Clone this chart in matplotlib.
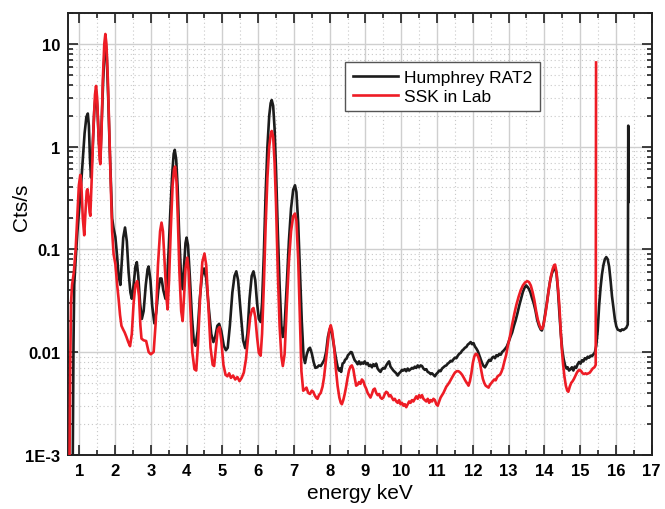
import matplotlib
matplotlib.use("Agg")
import matplotlib.pyplot as plt
from matplotlib.ticker import FixedLocator, NullFormatter, MultipleLocator

# Spectrum of the Humphrey RAT2 source: (energy keV, counts per second)
rat2_points = [
    (0.82, 0.001), (0.84, 0.012), (0.86, 0.045), (0.90, 0.08), (0.95, 0.15),
    (1.00, 0.25), (1.05, 0.42), (1.10, 0.75), (1.15, 1.35), (1.20, 1.95),
    (1.24, 2.1), (1.27, 1.6), (1.30, 0.75), (1.33, 0.5), (1.37, 0.9),
    (1.42, 2.2), (1.47, 3.5), (1.51, 2.3), (1.55, 1.1), (1.59, 0.75),
    (1.63, 1.8), (1.67, 4.5), (1.71, 8.5), (1.74, 10.0), (1.77, 7.5),
    (1.81, 3.0), (1.85, 1.0), (1.89, 0.4), (1.92, 0.2), (1.96, 0.16),
    (2.01, 0.132), (2.06, 0.085), (2.10, 0.055), (2.15, 0.045), (2.19, 0.075),
    (2.23, 0.13), (2.28, 0.163), (2.33, 0.12), (2.38, 0.06), (2.43, 0.038),
    (2.47, 0.033), (2.52, 0.045), (2.57, 0.068), (2.61, 0.075), (2.65, 0.055),
    (2.70, 0.03), (2.75, 0.021), (2.80, 0.025), (2.86, 0.045), (2.91, 0.064),
    (2.94, 0.068), (2.99, 0.05), (3.04, 0.028), (3.10, 0.019), (3.15, 0.024),
    (3.21, 0.04), (3.26, 0.052), (3.30, 0.052), (3.35, 0.04), (3.41, 0.033),
    (3.45, 0.045), (3.50, 0.1), (3.55, 0.25), (3.60, 0.55), (3.64, 0.85),
    (3.67, 0.93), (3.71, 0.75), (3.75, 0.4), (3.79, 0.15), (3.84, 0.06),
    (3.89, 0.041), (3.93, 0.07), (3.97, 0.115), (4.00, 0.13), (4.04, 0.11),
    (4.09, 0.055), (4.15, 0.022), (4.20, 0.013), (4.25, 0.0115), (4.31, 0.016),
    (4.37, 0.033), (4.43, 0.055), (4.49, 0.065), (4.55, 0.052), (4.62, 0.027),
    (4.69, 0.015), (4.75, 0.0125), (4.80, 0.014), (4.86, 0.018), (4.91, 0.0188),
    (4.97, 0.016), (5.04, 0.0115), (5.10, 0.0104), (5.15, 0.011), (5.21, 0.018),
    (5.28, 0.038), (5.34, 0.055), (5.39, 0.061), (5.44, 0.05), (5.51, 0.025),
    (5.58, 0.013), (5.64, 0.0109), (5.70, 0.015), (5.76, 0.033), (5.82, 0.055),
    (5.87, 0.061), (5.92, 0.05), (5.97, 0.03), (6.02, 0.021), (6.07, 0.0196),
    (6.11, 0.03), (6.16, 0.09), (6.21, 0.35), (6.26, 1.0), (6.31, 2.0),
    (6.35, 2.65), (6.38, 2.84), (6.42, 2.5), (6.46, 1.5), (6.50, 0.6),
    (6.55, 0.15), (6.60, 0.045), (6.65, 0.018), (6.69, 0.014), (6.74, 0.018),
    (6.80, 0.045), (6.86, 0.12), (6.92, 0.25), (6.98, 0.38), (7.03, 0.42),
    (7.07, 0.36), (7.12, 0.18), (7.17, 0.06), (7.22, 0.02), (7.27, 0.009),
    (7.31, 0.0078), (7.36, 0.0095), (7.41, 0.0107), (7.45, 0.0110), (7.50, 0.0097),
    (7.55, 0.0080), (7.60, 0.0070), (7.65, 0.0071), (7.70, 0.0074), (7.75, 0.0073),
    (7.80, 0.0078), (7.85, 0.0084), (7.90, 0.0100), (7.95, 0.0140), (8.00, 0.0166),
    (8.04, 0.0165), (8.08, 0.0140), (8.13, 0.0108), (8.18, 0.0085), (8.22, 0.0072),
    (8.26, 0.0066), (8.29, 0.0069), (8.32, 0.0064), (8.36, 0.0077), (8.40, 0.0079),
    (8.43, 0.0084), (8.47, 0.0086), (8.51, 0.0093), (8.55, 0.0096), (8.59, 0.0100),
    (8.62, 0.0099), (8.66, 0.0090), (8.70, 0.0083), (8.74, 0.0080), (8.78, 0.0076),
    (8.82, 0.0081), (8.86, 0.0076), (8.90, 0.0079), (8.94, 0.0077), (8.98, 0.0081),
    (9.02, 0.0076), (9.06, 0.0078), (9.10, 0.0073), (9.14, 0.0075), (9.18, 0.0071),
    (9.22, 0.0076), (9.26, 0.0073), (9.30, 0.0077), (9.34, 0.0069), (9.38, 0.0066),
    (9.42, 0.0064), (9.46, 0.0068), (9.50, 0.0070), (9.54, 0.0069), (9.58, 0.0074),
    (9.62, 0.0078), (9.66, 0.0081), (9.70, 0.0072), (9.74, 0.0069), (9.78, 0.0066),
    (9.82, 0.0064), (9.86, 0.0062), (9.90, 0.0059), (9.94, 0.0062), (9.98, 0.0064),
    (10.02, 0.0067), (10.06, 0.0066), (10.10, 0.0068), (10.14, 0.0065), (10.18, 0.0069),
    (10.22, 0.0066), (10.26, 0.0068), (10.30, 0.0070), (10.34, 0.0069), (10.38, 0.0072),
    (10.42, 0.0070), (10.46, 0.0074), (10.50, 0.0071), (10.54, 0.0074), (10.58, 0.0073),
    (10.62, 0.0069), (10.66, 0.0067), (10.70, 0.0068), (10.74, 0.0064), (10.78, 0.0063),
    (10.82, 0.0061), (10.86, 0.0062), (10.90, 0.0060), (10.94, 0.0058), (10.98, 0.0061),
    (11.02, 0.0063), (11.06, 0.0066), (11.10, 0.0065), (11.14, 0.0069), (11.18, 0.0071),
    (11.22, 0.0073), (11.26, 0.0074), (11.30, 0.0077), (11.34, 0.0079), (11.38, 0.0082),
    (11.42, 0.0081), (11.46, 0.0085), (11.50, 0.0088), (11.54, 0.0087), (11.58, 0.0092),
    (11.62, 0.0096), (11.66, 0.0098), (11.70, 0.0103), (11.74, 0.0106), (11.78, 0.0110),
    (11.82, 0.0112), (11.86, 0.0118), (11.90, 0.0121), (11.94, 0.0125), (11.98, 0.0119),
    (12.02, 0.0122), (12.06, 0.0113), (12.10, 0.0108), (12.14, 0.0102), (12.18, 0.0093),
    (12.22, 0.0085), (12.26, 0.0078), (12.30, 0.0073), (12.34, 0.0071), (12.38, 0.0075),
    (12.42, 0.0080), (12.46, 0.0084), (12.50, 0.0082), (12.54, 0.0088), (12.58, 0.0090),
    (12.62, 0.0087), (12.66, 0.0093), (12.70, 0.0091), (12.74, 0.0096), (12.78, 0.0094),
    (12.82, 0.0100), (12.86, 0.0103), (12.90, 0.0107), (12.95, 0.0113), (13.00, 0.0125),
    (13.05, 0.0140), (13.10, 0.0155), (13.15, 0.0180), (13.20, 0.0205), (13.25, 0.0240),
    (13.30, 0.0285), (13.35, 0.0330), (13.40, 0.0385), (13.45, 0.0425), (13.49, 0.0445),
    (13.53, 0.0430), (13.57, 0.0410), (13.61, 0.0380), (13.65, 0.0340), (13.70, 0.0300),
    (13.75, 0.0255), (13.80, 0.0205), (13.85, 0.0180), (13.90, 0.0165), (13.93, 0.0162),
    (13.97, 0.0180), (14.01, 0.0220), (14.06, 0.0285), (14.11, 0.0380), (14.16, 0.0490),
    (14.21, 0.0580), (14.26, 0.0640), (14.30, 0.0660), (14.34, 0.0580), (14.38, 0.0400),
    (14.42, 0.0240), (14.46, 0.0150), (14.50, 0.0105), (14.54, 0.0085), (14.58, 0.0074),
    (14.62, 0.0069), (14.65, 0.0071), (14.69, 0.0066), (14.73, 0.0068), (14.77, 0.0071),
    (14.81, 0.0066), (14.85, 0.0072), (14.89, 0.0070), (14.93, 0.0076), (14.97, 0.0080),
    (15.01, 0.0077), (15.05, 0.0083), (15.09, 0.0081), (15.13, 0.0087), (15.17, 0.0085),
    (15.21, 0.0090), (15.25, 0.0088), (15.29, 0.0092), (15.33, 0.0091), (15.37, 0.0095),
    (15.41, 0.0099), (15.45, 0.0115), (15.49, 0.0160), (15.53, 0.0280), (15.57, 0.0420),
    (15.61, 0.0570), (15.65, 0.0700), (15.69, 0.0800), (15.73, 0.0840), (15.77, 0.0800),
    (15.81, 0.0680), (15.85, 0.0500), (15.89, 0.0350), (15.93, 0.0270), (15.97, 0.0210),
    (16.01, 0.0178), (16.05, 0.0165), (16.09, 0.0163), (16.13, 0.0160), (16.17, 0.0166),
    (16.21, 0.0164), (16.25, 0.0168), (16.29, 0.0172), (16.33, 0.0185), (16.345, 1.6),
    (16.355, 0.29),
]

# Spectrum of the SSK source measured in the lab: (energy keV, counts per second)
ssk_points = [
    (0.73, 0.001), (0.75, 0.008), (0.77, 0.03), (0.80, 0.045), (0.85, 0.06),
    (0.90, 0.1), (0.95, 0.22), (0.99, 0.42), (1.03, 0.53), (1.06, 0.42),
    (1.10, 0.2), (1.14, 0.137), (1.18, 0.25), (1.21, 0.37), (1.23, 0.385),
    (1.26, 0.32), (1.29, 0.23), (1.31, 0.212), (1.35, 0.5), (1.40, 1.6),
    (1.44, 3.2), (1.47, 3.9), (1.50, 3.0), (1.54, 1.3), (1.57, 0.75),
    (1.59, 0.675), (1.62, 1.3), (1.66, 4.5), (1.70, 10.0), (1.73, 12.5),
    (1.76, 10.0), (1.80, 4.5), (1.84, 1.4), (1.88, 0.45), (1.92, 0.15),
    (1.96, 0.09), (2.01, 0.072), (2.06, 0.045), (2.10, 0.033), (2.14, 0.023),
    (2.18, 0.018), (2.23, 0.0165), (2.27, 0.0155), (2.32, 0.014), (2.37, 0.0125),
    (2.42, 0.0114), (2.47, 0.015), (2.52, 0.03), (2.57, 0.045), (2.62, 0.049),
    (2.67, 0.035), (2.71, 0.018), (2.74, 0.0135), (2.80, 0.013), (2.87, 0.0128),
    (2.94, 0.0100), (3.00, 0.0095), (3.08, 0.0100), (3.14, 0.02), (3.20, 0.07),
    (3.26, 0.15), (3.30, 0.182), (3.34, 0.15), (3.39, 0.07), (3.44, 0.033),
    (3.47, 0.026), (3.51, 0.05), (3.56, 0.16), (3.61, 0.42), (3.65, 0.6),
    (3.68, 0.64), (3.72, 0.45), (3.76, 0.18), (3.80, 0.06), (3.85, 0.025),
    (3.89, 0.020), (3.93, 0.035), (3.97, 0.065), (4.02, 0.083), (4.06, 0.06),
    (4.11, 0.025), (4.16, 0.01), (4.22, 0.0068), (4.27, 0.0066), (4.32, 0.012),
    (4.38, 0.035), (4.44, 0.075), (4.50, 0.091), (4.55, 0.07), (4.61, 0.028),
    (4.67, 0.011), (4.73, 0.0075), (4.77, 0.0073), (4.82, 0.011), (4.87, 0.0165),
    (4.92, 0.0175), (4.97, 0.013), (5.03, 0.0075), (5.09, 0.006), (5.14, 0.0058),
    (5.19, 0.0062), (5.24, 0.0056), (5.30, 0.0059), (5.36, 0.0054), (5.42, 0.0057),
    (5.48, 0.0052), (5.54, 0.0056), (5.60, 0.0063), (5.66, 0.0085), (5.72, 0.014),
    (5.78, 0.022), (5.83, 0.026), (5.87, 0.0268), (5.92, 0.022), (5.97, 0.014),
    (6.02, 0.0098), (6.07, 0.0092), (6.11, 0.015), (6.16, 0.045), (6.21, 0.17),
    (6.26, 0.5), (6.31, 1.0), (6.35, 1.3), (6.38, 1.42), (6.42, 1.25),
    (6.46, 0.7), (6.50, 0.28), (6.55, 0.06), (6.60, 0.018), (6.65, 0.009),
    (6.69, 0.0073), (6.74, 0.0095), (6.80, 0.028), (6.86, 0.075), (6.92, 0.15),
    (6.98, 0.21), (7.03, 0.223), (7.07, 0.19), (7.12, 0.08), (7.17, 0.02),
    (7.21, 0.0065), (7.26, 0.0042), (7.30, 0.0043), (7.35, 0.0045), (7.40, 0.0040),
    (7.45, 0.0039), (7.50, 0.0042), (7.54, 0.0041), (7.58, 0.0038), (7.62, 0.0036),
    (7.66, 0.0035), (7.70, 0.0038), (7.75, 0.0040), (7.80, 0.0046), (7.84, 0.0056),
    (7.89, 0.0080), (7.94, 0.0115), (7.99, 0.0165), (8.03, 0.0182), (8.07, 0.0160),
    (8.12, 0.0115), (8.17, 0.0070), (8.22, 0.0047), (8.27, 0.0036), (8.31, 0.0032),
    (8.34, 0.0031), (8.38, 0.0034), (8.42, 0.0039), (8.46, 0.0046), (8.50, 0.0056),
    (8.54, 0.0066), (8.58, 0.0072), (8.62, 0.0074), (8.66, 0.0068), (8.70, 0.0056),
    (8.74, 0.0047), (8.78, 0.0048), (8.82, 0.0051), (8.86, 0.0049), (8.90, 0.0054),
    (8.94, 0.0052), (8.98, 0.0047), (9.02, 0.0044), (9.06, 0.0040), (9.10, 0.0038),
    (9.14, 0.0036), (9.18, 0.0039), (9.22, 0.0043), (9.26, 0.0044), (9.30, 0.0040),
    (9.34, 0.0038), (9.38, 0.0039), (9.42, 0.0036), (9.46, 0.0035), (9.50, 0.0036),
    (9.54, 0.0039), (9.58, 0.0041), (9.62, 0.0040), (9.66, 0.0037), (9.70, 0.0038),
    (9.74, 0.0036), (9.78, 0.0034), (9.82, 0.0035), (9.86, 0.0033), (9.90, 0.0032),
    (9.94, 0.0034), (9.98, 0.0031), (10.02, 0.0032), (10.06, 0.0030), (10.10, 0.0031),
    (10.14, 0.0029), (10.18, 0.0031), (10.22, 0.0033), (10.26, 0.0032), (10.30, 0.0034),
    (10.34, 0.0033), (10.38, 0.0035), (10.42, 0.0037), (10.46, 0.0035), (10.50, 0.0038),
    (10.54, 0.0036), (10.58, 0.0038), (10.62, 0.0035), (10.66, 0.0034), (10.70, 0.0033),
    (10.74, 0.0035), (10.78, 0.0032), (10.82, 0.0034), (10.86, 0.0033), (10.90, 0.0035),
    (10.94, 0.0034), (10.98, 0.0031), (11.02, 0.0030), (11.06, 0.0033), (11.10, 0.0036),
    (11.14, 0.0038), (11.18, 0.0040), (11.22, 0.0043), (11.26, 0.0046), (11.30, 0.0048),
    (11.35, 0.0051), (11.40, 0.0055), (11.45, 0.0059), (11.50, 0.0063), (11.55, 0.0065),
    (11.60, 0.0065), (11.65, 0.0063), (11.70, 0.0060), (11.75, 0.0056), (11.80, 0.0052),
    (11.85, 0.0049), (11.88, 0.0047), (11.92, 0.0052), (11.96, 0.0062), (12.00, 0.0078),
    (12.04, 0.0090), (12.08, 0.0096), (12.12, 0.0095), (12.16, 0.0088), (12.20, 0.0078),
    (12.24, 0.0065), (12.28, 0.0055), (12.32, 0.0050), (12.36, 0.0047), (12.40, 0.0046),
    (12.44, 0.0045), (12.48, 0.0048), (12.52, 0.0050), (12.56, 0.0052), (12.60, 0.0054),
    (12.64, 0.0053), (12.68, 0.0057), (12.72, 0.0059), (12.76, 0.0060), (12.80, 0.0064),
    (12.84, 0.0070), (12.88, 0.0080), (12.93, 0.0093), (12.98, 0.0115), (13.04, 0.0143),
    (13.10, 0.0185), (13.16, 0.0235), (13.22, 0.0290), (13.28, 0.0345), (13.34, 0.0400),
    (13.40, 0.0445), (13.46, 0.0475), (13.52, 0.0490), (13.57, 0.0480), (13.62, 0.0445),
    (13.67, 0.0385), (13.72, 0.0320), (13.77, 0.0250), (13.82, 0.0205), (13.87, 0.0180),
    (13.91, 0.0168), (13.95, 0.0170), (13.99, 0.0195), (14.03, 0.0235), (14.08, 0.0310),
    (14.13, 0.0420), (14.18, 0.0540), (14.23, 0.0640), (14.27, 0.0700), (14.30, 0.0710),
    (14.34, 0.0600), (14.38, 0.0420), (14.42, 0.0280), (14.45, 0.0180), (14.48, 0.0116),
    (14.52, 0.0078), (14.56, 0.0058), (14.60, 0.0047), (14.64, 0.0042), (14.67, 0.0041),
    (14.71, 0.0046), (14.75, 0.0050), (14.79, 0.0052), (14.83, 0.0055), (14.87, 0.0059),
    (14.91, 0.0063), (14.95, 0.0066), (14.99, 0.0067), (15.03, 0.0065), (15.07, 0.0062),
    (15.11, 0.0061), (15.15, 0.0062), (15.19, 0.0061), (15.23, 0.0062), (15.27, 0.0063),
    (15.31, 0.0066), (15.35, 0.0069), (15.40, 0.0071), (15.435, 0.0075), (15.445, 6.6),
]

series_labels = ["Humphrey RAT2", "SSK in Lab"]
series_colors = ["#1c1c1c", "#ee1c25"]

x_ticks = list(range(1, 18))
y_ticks = [1e-3, 1e-2, 1e-1, 1, 10]
y_tick_labels = ["1E-3", "0.01", "0.1", "1", "10"]

rat2_energy = [p[0] for p in rat2_points]
rat2_counts = [p[1] for p in rat2_points]
ssk_energy = [p[0] for p in ssk_points]
ssk_counts = [p[1] for p in ssk_points]

plt.rcParams["font.family"] = ["Liberation Sans", "DejaVu Sans"]

fig = plt.figure(figsize=(6.65, 5.10), dpi=100)
ax = fig.add_axes([0.103, 0.1065, 0.877, 0.866])

ax.plot(rat2_energy, rat2_counts, color=series_colors[0], lw=1.9,
        label=series_labels[0], zorder=3)
ax.plot(ssk_energy, ssk_counts, color=series_colors[1], lw=1.9,
        label=series_labels[1], zorder=4)

ax.set_yscale("log")
ax.set_xlim(0.7, 17.0)
ax.set_ylim(1e-3, 20)

ax.xaxis.set_major_locator(FixedLocator(x_ticks))
ax.xaxis.set_minor_locator(MultipleLocator(0.5))
ax.yaxis.set_major_locator(FixedLocator(y_ticks))
minor_y = [m * 10.0 ** e for e in range(-3, 2) for m in range(2, 10)]
ax.yaxis.set_minor_locator(FixedLocator(minor_y))
ax.yaxis.set_minor_formatter(NullFormatter())
ax.set_yticklabels(y_tick_labels)
ax.set_xticklabels([str(t) for t in x_ticks])

ax.grid(which="major", color="#cfcfcf", lw=1.0, ls="-", zorder=0)
ax.grid(which="minor", color="#c8c8c8", lw=0.8, ls=(0, (1, 2.5)), zorder=0)

ax.tick_params(which="both", direction="in", top=True, right=True,
               width=1.2, color="#222222")
ax.tick_params(which="major", length=7, pad=6, labelsize=12)
ax.tick_params(which="minor", length=3.5)
for lbl in ax.get_xticklabels() + ax.get_yticklabels():
    lbl.set_fontweight("bold")

for sp in ax.spines.values():
    sp.set_linewidth(1.4)
    sp.set_color("#222222")

ax.set_xlabel("energy keV", fontsize=15)
ax.set_ylabel("Cts/s", fontsize=15)
ax.xaxis.set_label_coords(0.5, -0.063)
ax.yaxis.set_label_coords(-0.064, 0.563)

leg = ax.legend(loc="upper left", bbox_to_anchor=(0.474, 0.889),
                fontsize=12.5, frameon=True, fancybox=False, framealpha=1,
                edgecolor="#555555", handlelength=2.6, handletextpad=0.35,
                labelspacing=0.2, borderpad=0.45, borderaxespad=0)
leg.get_frame().set_linewidth(1.0)

fig.savefig("out.png", dpi=100)
